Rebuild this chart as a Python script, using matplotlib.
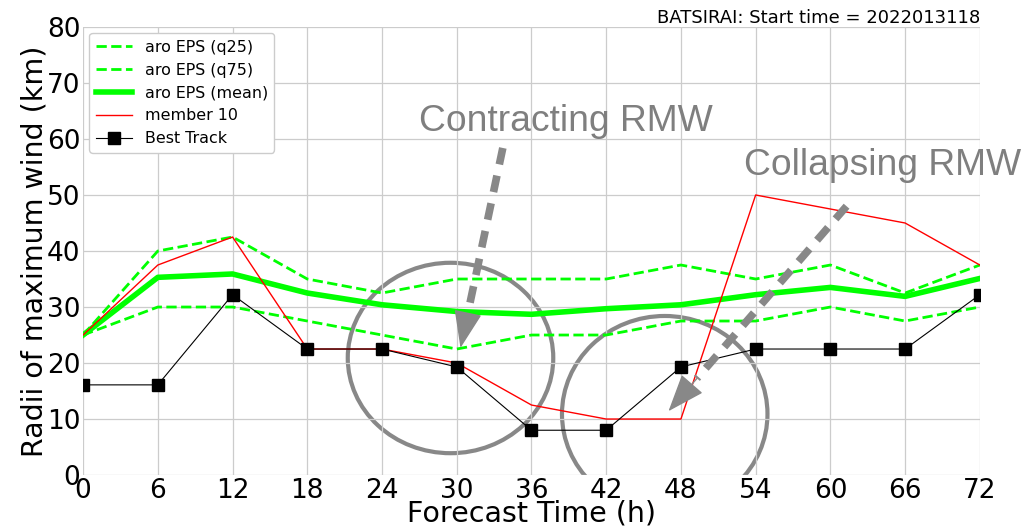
import matplotlib.pyplot as plt
from matplotlib.patches import Ellipse

# data
hours = [0, 6, 12, 18, 24, 30, 36, 42, 48, 54, 60, 66, 72]
q25 = [25, 30, 30, 27.5, 25, 22.5, 25, 25, 27.5, 27.5, 30, 27.5, 30]
q75 = [25, 40, 42.5, 35, 32.5, 35, 35, 35, 37.5, 35, 37.5, 32.5, 37.5]
eps_mean = [25, 35.3, 35.9, 32.5, 30.4, 29.2, 28.7, 29.7, 30.4, 32.2, 33.5, 31.9, 35.1]
member10 = [25, 37.5, 42.5, 22.5, 22.5, 20, 12.5, 10, 10, 50, 47.5, 45, 37.5]
best_track = [16.1, 16.1, 32.2, 22.5, 22.5, 19.3, 8.0, 8.0, 19.3, 22.5, 22.5, 22.5, 32.2]

fig = plt.figure(figsize=(10.26, 5.29), dpi=100)
ax = fig.add_axes([0.081, 0.102, 0.874, 0.847])

ax.plot(hours, q25, color="lime", linestyle="--", linewidth=2, label="aro EPS (q25)")
ax.plot(hours, q75, color="lime", linestyle="--", linewidth=2, label="aro EPS (q75)")
ax.plot(hours, eps_mean, color="lime", linewidth=4, label="aro EPS (mean)")
ax.plot(hours, member10, color="red", linewidth=1, label="member 10")
ax.plot(hours, best_track, color="black", linewidth=0.8, marker="s", markersize=8.5,
        label="Best Track")

ax.set_xlim(0, 72)
ax.set_ylim(0, 80)
ax.set_xticks(hours)
ax.set_yticks(range(0, 81, 10))
ax.tick_params(labelsize=19, length=0, pad=2)
ax.grid(True, color="#cccccc", linewidth=0.9)
for s in ax.spines.values():
    s.set_visible(False)

ax.set_xlabel("Forecast Time (h)", fontsize=20.5, labelpad=-3)
ax.set_ylabel("Radii of maximum wind (km)", fontsize=20.5, labelpad=-1)
ax.set_title("BATSIRAI: Start time = 2022013118", loc="right", fontsize=13, pad=3)

ax.legend(loc="upper left", fontsize=11.4, framealpha=1, handlelength=2.3,
          borderaxespad=0.4)

# annotations: circles
gray = "#888888"
ax.add_patch(Ellipse((29.5, 20.9), 16.5, 34, fill=False, edgecolor=gray, linewidth=3))
ax.add_patch(Ellipse((46.7, 10.9), 16.5, 35, fill=False, edgecolor=gray, linewidth=3))

# annotations: dashed arrows (dashed shaft + solid head)
arrows = [((33.7, 58.4), (30.3, 22.7)), ((61.3, 48.0), (47.0, 11.4))]
for (x0, y0), (x1, y1) in arrows:
    f = 0.84
    xb, yb = x0 + f * (x1 - x0), y0 + f * (y1 - y0)
    ax.plot([x0, xb], [y0, yb], color=gray, linewidth=5.5,
            dashes=(2.2, 1.5), dash_capstyle="butt")
    ax.annotate("", xy=(x1, y1), xytext=(xb, yb),
                arrowprops=dict(arrowstyle="-|>,head_length=1.2,head_width=0.45",
                                color=gray, linewidth=1, shrinkA=0, shrinkB=0,
                                mutation_scale=20))

ax.text(27.0, 61.4, "Contracting RMW", fontsize=26.8, color="#7f7f7f",
        family="Liberation Sans", va="baseline", clip_on=False)
ax.text(53.1, 53.6, "Collapsing RMW", fontsize=26.8, color="#7f7f7f",
        family="Liberation Sans", va="baseline", clip_on=False)

fig.savefig("out.png", dpi=100)
